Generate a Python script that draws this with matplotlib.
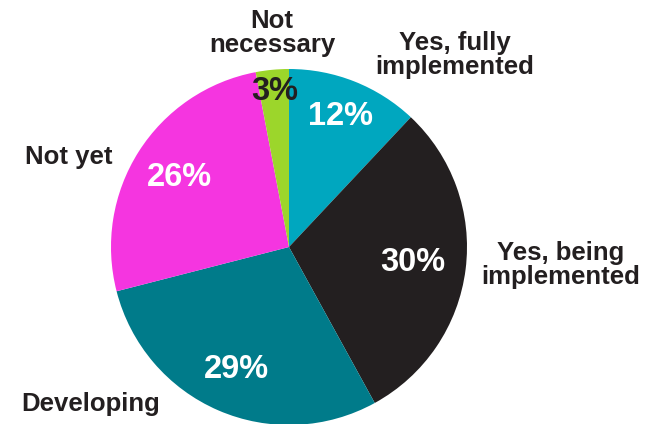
import matplotlib
matplotlib.use('Agg')
import matplotlib.pyplot as plt
import numpy as np

# --- DATA ---
categories = ['Yes, fully\nimplemented', 'Yes, being\nimplemented', 'Developing', 'Not yet', 'Not\nnecessary']
values = [12, 30, 29, 26, 3]
pct_labels = ['12%', '30%', '29%', '26%', '3%']

# --- STYLE ---
colors = ['#00A7BF', '#231F20', '#007B8A', '#F535E0', '#9CD62B']
pct_colors = ['white', 'white', 'white', 'white', '#231F20']
pct_radius = [0.79, 0.70, 0.75, 0.73, 0.88]
plt.rcParams['font.family'] = ['Liberation Sans', 'DejaVu Sans']

W, H = 649, 424
fig = plt.figure(figsize=(W / 100, H / 100), dpi=100)
ax = fig.add_axes([0, 0, 1, 1])

cx, cy, r = 289, H - 247, 178
wedges, _ = ax.pie(values, colors=colors, startangle=90, counterclock=False,
                   center=(cx, cy), radius=r, frame=True,
                   wedgeprops=dict(linewidth=0))
ax.set_xlim(0, W)
ax.set_ylim(0, H)
ax.axis('off')

# percentage labels inside wedges
for w, txt, col, f in zip(wedges, pct_labels, pct_colors, pct_radius):
    ang = np.deg2rad((w.theta1 + w.theta2) / 2)
    ax.text(cx + f * r * np.cos(ang), cy + f * r * np.sin(ang), txt,
            ha='center', va='center', fontsize=23.5, fontweight='bold', color=col)

# outer category labels (pixel positions from top-left)
label_pos = [(455, 55), (561, 265), (91, 404), (69, 157), (272, 33)]
for (lx, ly), name in zip(label_pos, categories):
    ax.text(lx, H - ly, name, ha='center', va='center', fontsize=18.5,
            fontweight='bold', color='#231F20', linespacing=0.95)

fig.savefig('out.png', dpi=100, facecolor='white')
